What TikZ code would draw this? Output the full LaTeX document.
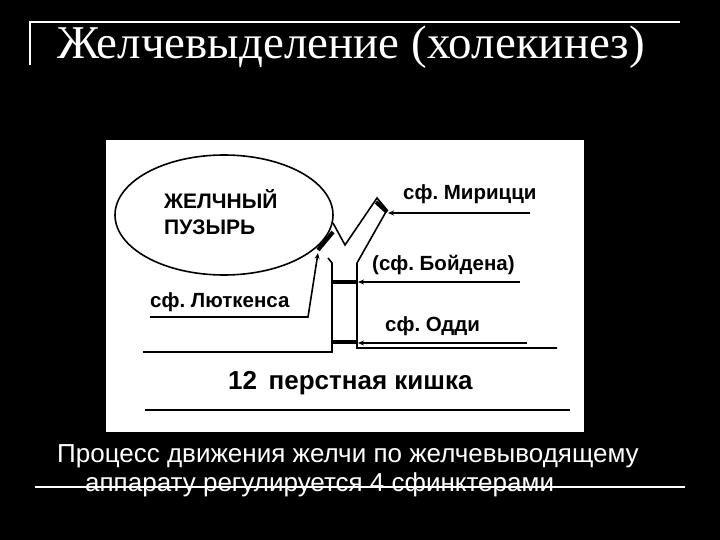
\documentclass[tikz,border=0pt]{standalone}
\usepackage{fontspec}
\setmainfont{Liberation Sans}
\newfontfamily\titlefont{Liberation Serif}
\usetikzlibrary{arrows.meta,shapes.geometric}
\frenchspacing
\begin{document}
\begin{tikzpicture}[x=1pt,y=-1pt,
  wall/.style={line width=1.6pt},
  thick bar/.style={line width=4pt},
  pointer/.style={line width=1.6pt,-{Stealth[length=6pt,width=5pt]}},
  lab/.style={font=\bfseries\fontsize{20.5}{22}\selectfont,inner sep=0pt,anchor=west},
  body/.style={text=white,font=\fontsize{26}{28}\selectfont,inner sep=0pt,anchor=west}]
\useasboundingbox (0,0) rectangle (720,540);
\fill[black] (0,0) rectangle (720,540);
% title frame
\draw[white,line width=1.5pt] (30,65) -- (30,22) -- (680,22);
\node[text=white,font=\titlefont\fontsize{47}{50}\selectfont,inner sep=0pt,anchor=west] (title) at (57,47) {Желчевыделение (холекинез)};
% white panel
\fill[white] (106,140) rectangle (584,432);
% gall bladder
\node[draw,wall,ellipse,minimum width=218pt,minimum height=120pt,inner sep=0pt] (gb) at (224,215) {};
\node[lab,align=left,font=\bfseries\fontsize{21}{26}\selectfont] (gbt) at (164,212) {ЖЕЛЧНЫЙ\\ПУЗЫРЬ};
% ducts
\coordinate (zA) at (333,223);
\coordinate (zB) at (345,245);
\coordinate (zC) at (377,198);
\coordinate (zD) at (387,210);
\coordinate (zE) at (357,263);
\coordinate (zF) at (357,348);
\coordinate (zG) at (557,348);
\draw[wall] (zA) -- (zB) -- (zC) -- (zD) -- (zE) -- (zF) -- (zG);
\coordinate (lA) at (328,258);
\coordinate (lB) at (332,263);
\coordinate (lC) at (332,352);
\coordinate (lD) at (143,352);
\draw[wall] (lA) -- (lB) -- (lC) -- (lD);
\draw[thick bar] (333,232) -- (318,250);
\draw[thick bar] (376,202) -- (387,212);
\draw[thick bar] (332,282) -- (357,282);
\draw[thick bar] (332,342) -- (357,342);
% sphincter pointers
\coordinate (mEnd) at (530,213);
\coordinate (bEnd) at (520,282);
\coordinate (oEnd) at (527,343);
\coordinate (lL) at (150,317);
\coordinate (lK) at (308,317);
\draw[pointer] (mEnd) -- (388,213);
\draw[pointer] (bEnd) -- (358,282);
\draw[pointer] (oEnd) -- (358,343);
\draw[pointer] (lL) -- (lK) -- (318,253);
\node[lab] (mir) at (403,194) {сф. Мирицци};
\node[lab] (boy) at (372,265) {(сф. Бойдена)};
\node[lab] (lut) at (150,302) {сф. Люткенса};
\node[lab] (odd) at (385,326) {сф. Одди};
\node[lab,font=\bfseries\fontsize{26}{28}\selectfont] (duo) at (228,383) {12\, перстная кишка};
\coordinate (bl1) at (145,410);
\coordinate (bl2) at (570,410);
\draw[wall] (bl1) -- (bl2);
% bottom text
\node[body] (t1) at (57,456) {Процесс движения желчи по желчевыводящему};
\node[body] (t2) at (85,485) {аппарату регулируется 4 сфинктерами};
\coordinate (s1) at (35,487);
\coordinate (s2) at (685,487);
\draw[white,line width=1.2pt] (s1) -- (s2);
\end{tikzpicture}
\end{document}
